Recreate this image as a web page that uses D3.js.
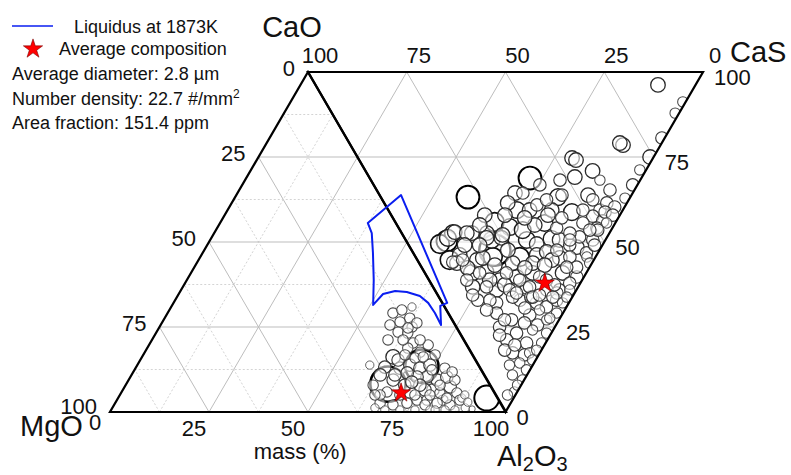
<!DOCTYPE html>
<html><head><meta charset="utf-8">
<script src="https://cdn.jsdelivr.net/npm/d3@7"></script>
<style>
html,body{margin:0;padding:0;background:#fff;}
svg{display:block;font-family:"Liberation Sans",Arial,sans-serif;}
</style></head><body>
<svg id="chart" width="791" height="475"></svg>
<script>
// ---------------- DATA ----------------
// Tick values along each axis (mass %)
const tickValues = [0, 25, 50, 75, 100];
const cornerLabels = ["CaO", "CaS", "MgO", "Al2O3"];
const legendTexts = ["Liquidus at 1873K", "Average composition"];
const statTexts = ["Average diameter: 2.8 \u00b5m", "Number density: 22.7 #/mm", "Area fraction: 151.4 ppm"];

// Oxide inclusions (MgO-CaO-Al2O3 triangle): [Al2O3, CaO, diameter um]
const oxideParticles = [
 [56.9,29.1,2.0],[58.7,30.0,2.0],[61.9,27.6,2.0],[60.0,26.5,2.0],[63.8,25.0,2.0],[61.0,23.5,2.0],
 [63.6,23.2,2.0],[66.4,20.3,2.0],[65.8,18.8,2.0],[69.5,17.6,2.0],[69.1,15.9,2.0],[71.0,16.2,2.0],
 [63.4,16.2,2.8],[58.7,13.8,1.6],[62.8,13.2,2.4],[66.8,12.9,2.4],[68.8,13.8,2.4],[71.8,12.9,2.4],
 [73.9,13.8,2.4],[72.0,13.5,6.4],[66.1,8.2,6.8],[82.2,7.4,2.4],[84.8,5.6,2.0],[86.6,3.5,2.0],
 [82.3,3.5,2.0],[78.3,6.5,2.4],[77.9,9.4,2.4],[74.9,10.3,2.4],[79.9,10.3,2.4],[72.4,10.3,2.4],
 [69.3,11.5,2.4],[66.8,9.4,2.4],[67.0,5.9,2.0],[66.9,2.6,2.0],[70.4,2.1,2.0],[73.7,2.6,2.0],
 [75.8,3.5,2.0],[78.3,3.5,2.0],[81.3,2.6,2.0],[84.8,2.1,2.0],[66.3,1.2,1.6],[93.1,4.1,4.8],
 [60.8,30.9,1.6],[64.4,26.2,2.0],[62.9,24.7,2.0],[89.1,1.2,1.6],[91.0,0.9,1.2],[80.5,5.6,2.0],
 [76.3,6.5,2.4],[72.8,5.9,2.4],[70.7,5.0,2.0],[82.4,9.4,2.0],[78.1,12.9,2.0],[73.7,16.8,2.0],
 [70.5,19.7,2.0],[65.7,5.0,2.0],[62.5,7.9,2.0],[76.7,0.6,1.6],[80.5,0.6,1.6],[84.3,0.6,1.6],
 [72.9,0.6,1.6],[69.1,0.6,1.6],[74.3,7.9,2.4],[86.8,4.1,1.6],[86.8,0.6,1.6],[79.4,7.9,2.0],
 [70.5,7.9,2.4],[74.5,5.0,2.0],[78.5,2.1,2.0],[65.1,15.3,2.4],[62.8,10.9,2.4],[59.6,21.2,2.0],
 [75.1,12.4,2.0],[87.1,5.0,1.6],[64.4,5.0,2.0],[66.5,10.9,2.4],[71.8,8.8,2.4],[78.3,5.0,2.0],
 [83.0,4.1,2.0],[80.5,11.8,2.0],[66.1,16.8,2.0],[63.4,21.2,2.0],[67.7,21.2,2.0],[57.9,25.6,2.0],
 [88.9,2.9,1.6],[81.8,0.6,1.6]
];

// Sulfide-bearing inclusions (CaO-CaS-Al2O3 triangle): [CaS, Al2O3, diameter um]
const sulfideParticles = [
 [86.7,3.8,2.8],[90.5,8.8,2.0],[86.9,12.1,2.0],[79.9,19.4,2.4],[74.1,25.0,2.8],[65.6,33.2,2.4],
 [69.0,21.5,2.8],[68.5,20.9,2.8],[54.2,25.3,2.8],[54.9,25.9,2.8],[57.5,29.1,2.8],[52.1,30.9,2.8],
 [40.6,31.2,4.4],[22.1,36.8,4.4],[34.6,35.6,2.8],[31.3,38.5,2.8],[32.6,40.6,3.2],[44.9,36.8,3.2],
 [52.8,36.2,2.8],[41.4,40.6,2.8],[46.2,41.2,3.2],[53.6,40.6,2.4],[56.4,38.5,2.4],[61.7,37.1,2.0],
 [57.8,39.7,2.4],[50.9,42.4,2.4],[52.7,43.8,2.4],[46.2,36.2,2.4],[25.2,44.1,3.6],[28.3,45.6,3.2],
 [34.9,45.0,2.8],[37.7,44.4,3.2],[40.0,45.9,2.4],[47.4,44.4,2.4],[50.2,45.9,2.4],[13.0,47.4,3.2],
 [17.8,47.4,2.8],[10.3,49.7,4.0],[21.8,49.4,3.2],[24.6,48.8,2.8],[21.1,52.4,6.0],[30.7,49.4,3.2],
 [32.6,50.6,2.8],[37.1,49.1,3.2],[42.3,51.5,2.8],[47.4,49.4,2.4],[44.5,48.5,2.4],[26.4,54.4,3.6],
 [11.5,53.8,2.8],[15.1,55.3,2.8],[8.7,55.9,2.4],[31.0,53.8,2.8],[34.0,52.9,2.8],[36.4,54.7,2.8],
 [43.9,53.2,2.4],[11.9,59.1,3.2],[15.8,58.8,2.8],[17.9,61.2,2.8],[22.7,60.3,2.8],[27.3,59.1,2.8],
 [34.9,59.1,2.8],[37.9,60.3,2.4],[10.1,63.2,2.8],[15.7,64.1,2.8],[19.0,64.1,2.4],[23.6,63.5,2.4],
 [28.4,64.1,2.4],[31.6,64.1,2.4],[9.4,67.1,2.4],[13.8,67.9,2.4],[20.1,67.1,2.4],[23.9,67.9,2.4],
 [29.4,67.1,2.4],[21.6,47.4,2.8],[31.1,46.5,3.2],[40.8,50.9,2.4],[47.1,50.9,2.4],[19.6,54.4,3.6],
 [23.7,56.2,2.8],[28.8,56.2,2.8],[34.1,55.3,2.8],[39.1,54.4,2.4],[43.4,54.4,2.0],[28.5,60.3,2.4],
 [30.5,65.0,2.4],[34.2,64.1,2.0],[18.7,66.2,2.4],[23.3,66.2,2.4],[25.8,69.1,2.4],[30.5,67.9,2.0],
 [12.5,67.1,2.4],[12.3,70.9,2.4],[15.1,72.9,2.4],[20.4,71.5,2.4],[24.0,72.9,2.0],[27.5,70.9,2.0],
 [11.0,75.0,2.4],[14.4,76.8,2.4],[18.9,75.9,2.0],[22.0,76.8,2.0],[10.9,78.8,2.4],[15.5,79.7,2.4],
 [19.3,79.7,2.0],[10.5,82.6,2.4],[14.8,82.6,2.0],[10.8,85.6,2.0],[14.5,84.7,2.0],[11.5,87.6,2.0],
 [9.0,90.6,2.0],[11.0,48.8,3.2],[13.6,47.1,2.8],[8.1,50.6,3.6],[16.5,47.4,2.8],[8.2,55.3,3.6],
 [9.6,56.2,2.8],[11.6,57.6,2.8],[8.9,65.6,2.4],[42.6,47.4,2.4],[54.6,41.2,2.4],[56.1,42.1,2.4],
 [50.1,46.5,2.4],[5.2,94.1,2.0],[20.8,48.8,2.8],[25.3,47.9,2.8],[11.5,55.3,2.4],[16.9,54.7,2.8],
 [9.6,61.2,2.4],[13.9,59.1,2.4],[13.6,63.2,2.4],[20.7,59.1,2.4],[23.0,61.2,2.4],[24.5,63.2,2.4],
 [20.3,65.0,2.4],[23.8,66.2,2.4],[29.8,61.2,2.4],[35.2,62.1,2.4],[28.9,66.2,2.4],[32.4,66.2,2.0],
 [39.3,57.4,2.4],[43.2,56.2,2.0],[36.8,57.4,2.4],[36.8,52.4,2.4],[41.6,49.4,2.4],[48.1,46.5,2.4],
 [53.4,44.4,2.0],[42.8,42.9,2.4],[35.8,40.6,2.8],[38.4,39.1,2.4],[36.6,35.6,2.4],[41.6,37.6,2.4],
 [49.3,40.6,2.4],[53.3,37.6,2.4],[8.9,81.8,2.4],[7.9,86.2,2.0],[17.0,81.8,2.0],[10.2,70.0,2.4],
 [17.9,73.8,2.4],[23.6,70.0,2.0],[25.0,72.4,2.0],[7.0,92.1,2.0],
 [18.0,50.9,2.8],[24.4,52.4,2.8],[31.5,56.8,2.8],[26.1,57.6,2.8],[18.9,56.8,2.8],[18.5,62.6,2.8],
 [25.8,65.6,2.4],[20.2,69.4,2.4],[13.3,72.9,2.4],[20.9,74.4,2.4],[12.2,80.3,2.4],[13.2,83.2,2.4],
 [7.2,89.1,2.0],[39.0,49.4,2.8],[39.7,42.1,2.8],[33.4,42.9,2.8],[28.8,42.1,2.8],[23.7,42.1,2.8],
 [21.0,45.0,2.8],[14.2,50.9,2.8],[42.1,33.2,2.4],[47.9,31.8,2.4],[59.1,34.7,2.4],[58.0,31.8,2.0],
 [69.6,28.8,2.0],[31.1,62.6,2.4],[15.4,61.2,2.8],[9.8,77.4,2.4],[3.0,95.0,2.0]
];

// Liquidus at 1873 K (MgO-CaO-Al2O3 triangle): [Al2O3, CaO]
const liquidus = [
 [37.3,55.6],[41.6,63.8],[69.1,32.1],[67.8,31.2],[70.8,25.6],[67.5,29.1],[64.3,32.1],
 [61.2,34.1],[57.3,35.3],[54.2,35.6],[51.6,34.7],[50.7,31.5],[47.2,38.8],[43.0,46.8],[39.8,52.6]
];

// Average compositions
const oxideAverage = [70.7, 5.6];    // [Al2O3, CaO]
const sulfideAverage = [28.9, 62.1]; // [CaS, Al2O3]

// ---------------- SCALES ----------------
const svg = d3.select('#chart');
const xL = d3.scaleLinear().domain([0,100]).range([110,506]);
const yL = d3.scaleLinear().domain([0,100]).range([412,72]);
const xR = d3.scaleLinear().domain([0,100]).range([308,703]);
const yR = d3.scaleLinear().domain([0,100]).range([72,412]);
const pL = (al, cao) => [xL(al + cao/2), yL(cao)];
const pR = (cas, al) => [xR(cas + al/2), yR(al)];
const rScale = d3.scaleLinear().domain([0,1]).range([0,2.6]);
const strokeCol = d3.scaleLinear().domain([1.6,4.0]).range(['#555','#000']).clamp(true);
const strokeW = d3.scaleLinear().domain([1.6,4.4,6.8]).range([0.9,1.9,2.6]).clamp(true);

// ---------------- CLIP PATHS ----------------
const defs = svg.append('defs');
const triL = [pL(0,0), pL(100,0), pL(0,100)];
const triR = [pR(0,0), pR(100,0), pR(0,100)];
defs.append('clipPath').attr('id','clipL').append('polygon').attr('points', triL.map(p=>p.join(',')).join(' '));
defs.append('clipPath').attr('id','clipR').append('polygon').attr('points', triR.map(p=>p.join(',')).join(' '));

// ---------------- GRID ----------------
const grid = svg.append('g');
function seg(a, b, major) {
  grid.append('line').attr('x1',a[0]).attr('y1',a[1]).attr('x2',b[0]).attr('y2',b[1])
    .attr('stroke', major ? '#bdbdbd' : '#d4d4d4')
    .attr('stroke-width', 1)
    .attr('stroke-dasharray', major ? null : '2,2');
}
d3.range(12.5, 100, 12.5).forEach(v => {
  const major = v % 25 === 0;
  seg(pL(0,v), pL(100-v,v), major);
  seg(pL(v,0), pL(v,100-v), major);
  seg(pL(100-v,0), pL(0,100-v), major);
});
[25,50,75].forEach(v => {
  seg(pR(0,v), pR(100-v,v), true);
  seg(pR(v,0), pR(v,100-v), true);
  seg(pR(100-v,0), pR(0,100-v), true);
});

// ---------------- PARTICLES ----------------
function drawParticles(data, proj, clip) {
  const sorted = data.slice().sort((a,b)=>b[2]-a[2]);
  svg.append('g').attr('clip-path', `url(#${clip})`)
    .selectAll('circle').data(sorted).join('circle')
    .attr('cx', d => proj(d[0], d[1])[0])
    .attr('cy', d => proj(d[0], d[1])[1])
    .attr('r', d => rScale(d[2]))
    .attr('fill', '#fff').attr('fill-opacity', 0.55)
    .attr('stroke', d => strokeCol(d[2]))
    .attr('stroke-width', d => strokeW(d[2]));
}
drawParticles(oxideParticles, pL, 'clipL');
drawParticles(sulfideParticles, pR, 'clipR');

// ---------------- TRIANGLE EDGES ----------------
const edge = d3.line();
svg.append('path').attr('d', edge(triL) + 'Z').attr('fill','none').attr('stroke','#000').attr('stroke-width',2.2).attr('stroke-linejoin','miter');
svg.append('path').attr('d', edge(triR) + 'Z').attr('fill','none').attr('stroke','#000').attr('stroke-width',2.2).attr('stroke-linejoin','miter');

// ---------------- LIQUIDUS ----------------
svg.append('path')
  .attr('d', d3.line().x(d => pL(d[0],d[1])[0]).y(d => pL(d[0],d[1])[1])(liquidus) + 'Z')
  .attr('fill','none').attr('stroke','#0a1ef0').attr('stroke-width',2).attr('stroke-linejoin','round');

// ---------------- AVERAGE STARS ----------------
const star = d3.symbol().type(d3.symbolStar).size(115);
function drawStar(p) {
  svg.append('path').attr('d', star()).attr('transform', `translate(${p[0]},${p[1]})`)
    .attr('fill','#ff0000').attr('stroke','#7a0000').attr('stroke-width',0.6);
}
drawStar(pL(oxideAverage[0], oxideAverage[1]));
drawStar(pR(sulfideAverage[0], sulfideAverage[1]));

// ---------------- TICK LABELS ----------------
const tickFont = 22;
const labels = svg.append('g').attr('font-size', tickFont).attr('fill','#111');
// Top edge: CaO (100 at CaO corner, 0 at CaS corner)
tickValues.forEach(v => {
  const p = pR(100 - v, 0);
  labels.append('text').attr('x', p[0] + 12).attr('y', p[1] - 9).attr('text-anchor','middle').text(v);
});
// Right edge: CaS
tickValues.forEach(v => {
  const p = pR(v, 100 - v);
  labels.append('text').attr('x', p[0] + 11).attr('y', p[1] + 13).attr('text-anchor','start').text(v);
});
// Bottom edge: Al2O3
tickValues.forEach(v => {
  const p = pL(v, 0);
  labels.append('text').attr('x', p[0] - 15).attr('y', p[1] + (v === 0 ? 18 : 24)).attr('text-anchor','middle').text(v);
});
// Left edge: MgO
tickValues.forEach(v => {
  const p = pL(0, 100 - v);
  labels.append('text').attr('x', p[0] - 13).attr('y', p[1] + (v === 100 ? 2 : 4)).attr('text-anchor','end').text(v);
});
labels.append('text').attr('x', xL(48)).attr('y', 459).attr('text-anchor','middle').text('mass (%)');

// ---------------- CORNER TITLES ----------------
const titles = svg.append('g').attr('font-size', 29).attr('fill','#111');
titles.append('text').attr('x', 292).attr('y', 37).attr('text-anchor','middle').text(cornerLabels[0]);
titles.append('text').attr('x', 730).attr('y', 62).text(cornerLabels[1]);
titles.append('text').attr('x', 20).attr('y', 436).text(cornerLabels[2]);
const al = titles.append('text').attr('x', 497).attr('y', 466);
al.append('tspan').text('Al');
al.append('tspan').attr('font-size', 20).attr('dy', 5).text('2');
al.append('tspan').attr('dy', -5).text('O');
al.append('tspan').attr('font-size', 20).attr('dy', 5).text('3');

// ---------------- LEGEND ----------------
const leg = svg.append('g').attr('font-size', 18).attr('fill','#111');
leg.append('line').attr('x1', 12).attr('x2', 53).attr('y1', 26).attr('y2', 26).attr('stroke','#0a1ef0').attr('stroke-width',1.6);
leg.append('text').attr('x', 74).attr('y', 33).text(legendTexts[0]);
svg.append('path').attr('d', star()).attr('transform','translate(33,49)')
  .attr('fill','#ff0000').attr('stroke','#7a0000').attr('stroke-width',0.6);
leg.append('text').attr('x', 59).attr('y', 55).text(legendTexts[1]);
leg.append('text').attr('x', 12).attr('y', 80).text(statTexts[0]);
const nd = leg.append('text').attr('x', 12).attr('y', 105);
nd.append('tspan').text(statTexts[1]);
nd.append('tspan').attr('font-size', 12).attr('dy', -7).text('2');
leg.append('text').attr('x', 12).attr('y', 129).text(statTexts[2]);
</script>
</body></html>
